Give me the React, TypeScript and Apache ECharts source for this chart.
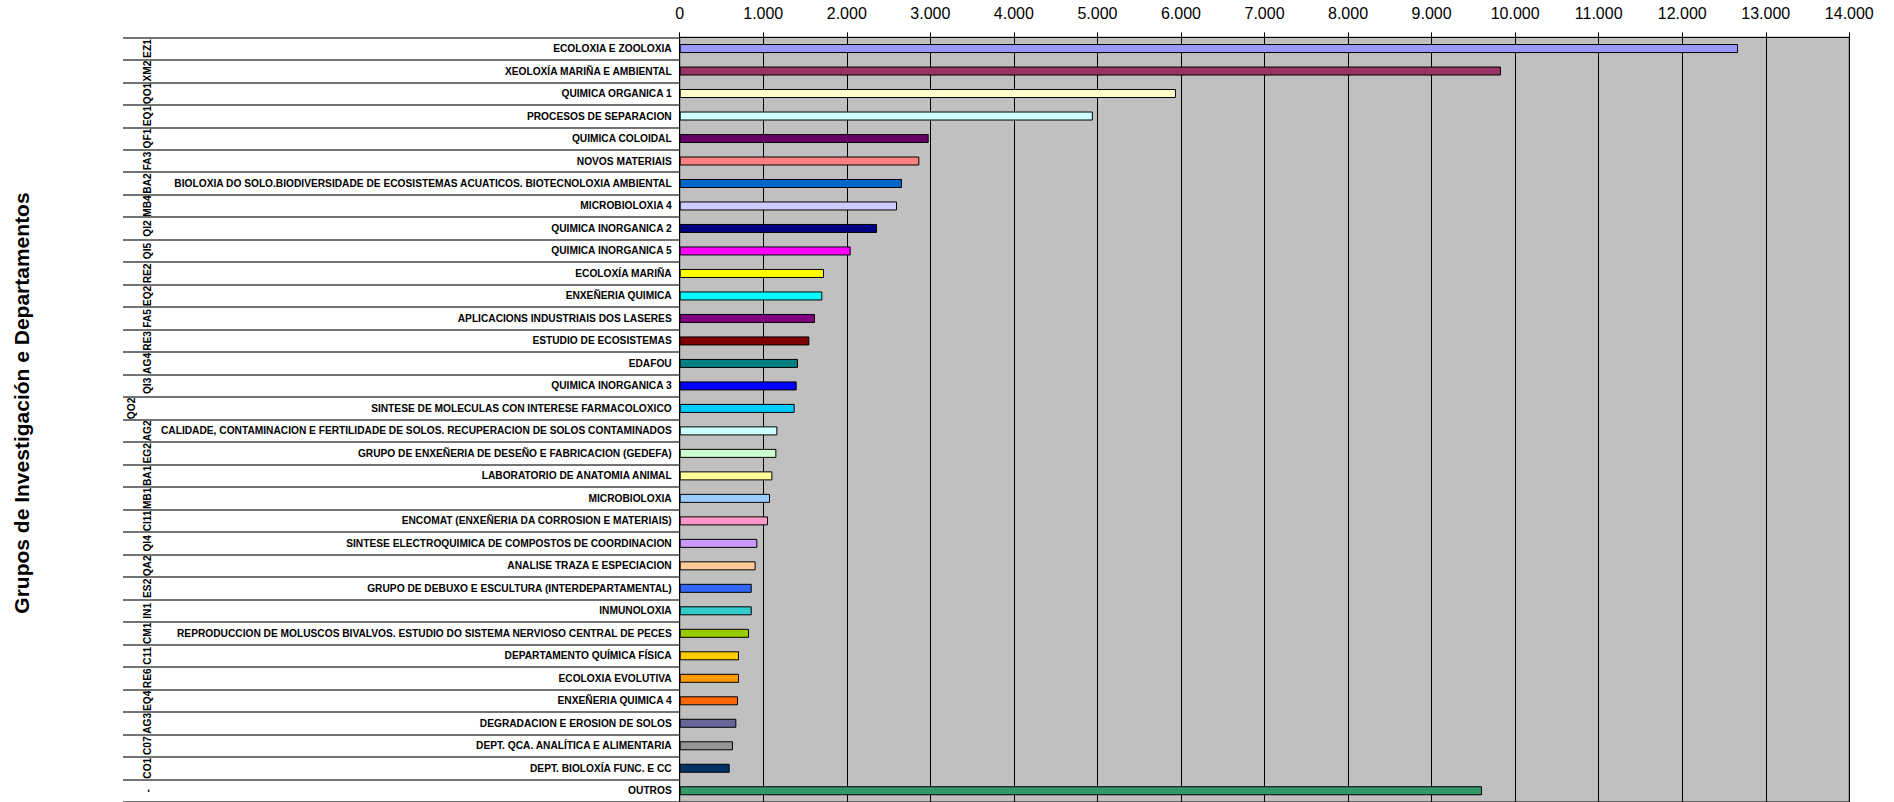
import React, { useEffect, useRef } from "react";
import * as echarts from "echarts";

const categories: string[] = [
  "ECOLOXIA E ZOOLOXIA",
  "XEOLOXÍA MARIÑA E AMBIENTAL",
  "QUIMICA ORGANICA 1",
  "PROCESOS DE SEPARACION",
  "QUIMICA COLOIDAL",
  "NOVOS MATERIAIS",
  "BIOLOXIA DO SOLO.BIODIVERSIDADE DE ECOSISTEMAS ACUATICOS. BIOTECNOLOXIA AMBIENTAL",
  "MICROBIOLOXIA 4",
  "QUIMICA INORGANICA 2",
  "QUIMICA INORGANICA 5",
  "ECOLOXÍA MARIÑA",
  "ENXEÑERIA QUIMICA",
  "APLICACIONS INDUSTRIAIS DOS LASERES",
  "ESTUDIO DE ECOSISTEMAS",
  "EDAFOU",
  "QUIMICA INORGANICA 3",
  "SINTESE DE MOLECULAS CON INTERESE FARMACOLOXICO",
  "CALIDADE, CONTAMINACION E FERTILIDADE DE SOLOS. RECUPERACION DE SOLOS CONTAMINADOS",
  "GRUPO DE ENXEÑERIA DE DESEÑO E FABRICACION (GEDEFA)",
  "LABORATORIO DE ANATOMIA ANIMAL",
  "MICROBIOLOXIA",
  "ENCOMAT (ENXEÑERIA DA CORROSION E MATERIAIS)",
  "SINTESE ELECTROQUIMICA DE COMPOSTOS DE COORDINACION",
  "ANALISE TRAZA E ESPECIACION",
  "GRUPO DE DEBUXO E ESCULTURA (INTERDEPARTAMENTAL)",
  "INMUNOLOXIA",
  "REPRODUCCION DE MOLUSCOS BIVALVOS. ESTUDIO DO SISTEMA NERVIOSO CENTRAL DE PECES",
  "DEPARTAMENTO QUÍMICA FÍSICA",
  "ECOLOXIA EVOLUTIVA",
  "ENXEÑERIA QUIMICA 4",
  "DEGRADACION E EROSION DE SOLOS",
  "DEPT. QCA. ANALÍTICA E ALIMENTARIA",
  "DEPT. BIOLOXÍA FUNC. E CC",
  "OUTROS",
];

const codes: string[] = [
  "EZ1", "XM2", "QO1", "EQ1", "QF1", "FA3", "BA2", "MB4", "QI2", "QI5",
  "RE2", "EQ2", "FA5", "RE3", "AG4", "QI3", "QO2", "AG2", "EG2", "BA1",
  "MB1", "CI11", "QI4", "QA2", "ES2", "IN1", "CM1", "C11", "RE6", "EQ4",
  "AG3", "C07", "CO1", "-",
];

const values: number[] = [
  12668, 9830, 5940, 4945, 2980, 2868, 2661, 2601, 2362, 2047,
  1727, 1707, 1620, 1552, 1416, 1400, 1376, 1169, 1157, 1109,
  1081, 1057, 929, 909, 862, 862, 830, 710, 710, 698,
  678, 638, 598, 9604,
];

const colors: string[] = [
  "#9999FF", "#993366", "#FFFFCC", "#CCFFFF", "#660066", "#FF8080", "#0066CC", "#CCCCFF", "#000080", "#FF00FF",
  "#FFFF00", "#00FFFF", "#800080", "#800000", "#008080", "#0000FF", "#00CCFF", "#CCFFFF", "#CCFFCC", "#FFFF99",
  "#99CCFF", "#FF99CC", "#CC99FF", "#FFCC99", "#3366FF", "#33CCCC", "#99CC00", "#FFCC00", "#FF9900", "#FF6600",
  "#666699", "#969696", "#003366", "#339966",
];

const xTicks = { min: 0, max: 14000, interval: 1000 };
const axisTitle = "Grupos de Investigación e Departamentos";

const FONT = "'Liberation Sans', Arial, sans-serif";

function fmt(v: number): string {
  return String(Math.round(v)).replace(/\B(?=(\d{3})+(?!\d))/g, ".");
}

export default function App() {
  const ref = useRef<HTMLDivElement>(null);
  useEffect(() => {
    if (!ref.current) return;
    const chart = echarts.init(ref.current, undefined, { renderer: "svg" });
    const gridLeft = 679.7;
    chart.setOption({
      animation: false,
      backgroundColor: "#FFFFFF",
      grid: {
        left: gridLeft,
        right: 44.7,
        top: 37.3,
        bottom: 0,
        show: true,
        backgroundColor: "#C0C0C0",
        borderColor: "#000000",
        borderWidth: 1,
      },
      xAxis: {
        type: "value",
        position: "top",
        min: xTicks.min,
        max: xTicks.max,
        interval: xTicks.interval,
        axisLine: { show: true, lineStyle: { color: "#000000", width: 1 } },
        axisTick: { show: true, length: 5, lineStyle: { color: "#000000" } },
        splitLine: { show: true, lineStyle: { color: "#000000", width: 1 } },
        axisLabel: {
          formatter: (v: number) => fmt(v),
          fontFamily: FONT,
          fontSize: 16,
          color: "#000000",
          margin: 15.5,
        },
      },
      yAxis: {
        type: "category",
        data: categories,
        inverse: true,
        axisLine: { show: true, lineStyle: { color: "#000000", width: 1 } },
        axisTick: { show: true, length: gridLeft - 123, lineStyle: { color: "#444444", width: 1.6 } },
        axisLabel: {
          interval: 0,
          fontFamily: FONT,
          fontSize: 10.2,
          fontWeight: "bold",
          color: "#000000",
          margin: 8,
        },
        splitLine: { show: false },
      },
      series: [
        {
          type: "bar",
          data: values.map((v, i) => ({ value: v, itemStyle: { color: colors[i] } })),
          barWidth: 9,
          itemStyle: { borderColor: "#000000", borderWidth: 1 },
        },
      ],
    });
    const graphics: any[] = codes.map((c, i) => {
      const y = chart.convertToPixel({ yAxisIndex: 0 }, categories[i]) as number;
      return {
        type: "text",
        x: c === "QO2" ? 131 : 147,
        y,
        rotation: Math.PI / 2,
        style: {
          text: c,
          font: `bold 10.2px ${FONT}`,
          fill: "#000000",
          align: "center",
          verticalAlign: "middle",
        },
      };
    });
    graphics.push({
      type: "text",
      x: 21,
      y: 403,
      rotation: Math.PI / 2,
      style: {
        text: axisTitle,
        font: `bold 21px ${FONT}`,
        fill: "#000000",
        align: "center",
        verticalAlign: "middle",
      },
    });
    chart.setOption({ graphic: graphics });
    return () => chart.dispose();
  }, []);
  return (
    <div
      ref={ref}
      style={{ position: "absolute", left: 0, top: 0, width: 1894, height: 802 }}
    />
  );
}
